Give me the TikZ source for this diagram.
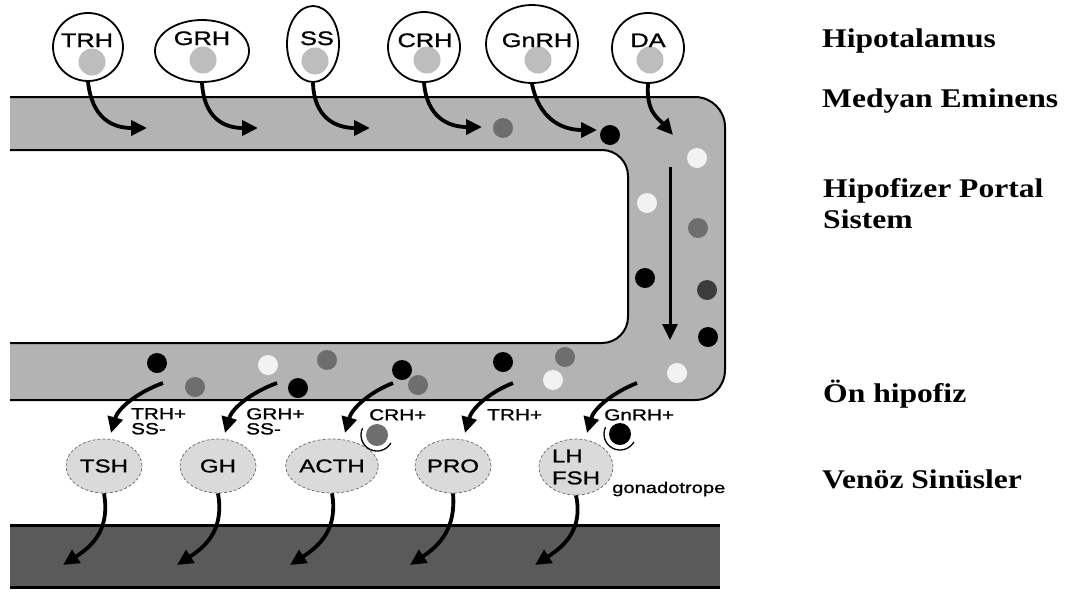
\documentclass[tikz,border=0pt]{standalone}
\usepackage{fontspec}
\usepackage{tikz}
\usetikzlibrary{arrows.meta, shapes.geometric}
\newfontfamily\sidefont[FakeStretch=1.17]{Liberation Serif}
\newfontfamily\labfont[FakeStretch=1.3, FakeBold=1.2]{Liberation Sans}
\definecolor{portalgrey}{HTML}{B3B3B3}
\definecolor{sinusgrey}{HTML}{5A5A5A}
\definecolor{cellgrey}{HTML}{DADADA}
\definecolor{granulegrey}{HTML}{BDBDBD}
\definecolor{midgrey}{HTML}{6E6E6E}
\definecolor{darkgrey}{HTML}{3C3C3C}
\definecolor{palegrey}{HTML}{F2F2F2}

\begin{document}
\begin{tikzpicture}[x=1pt, y=-1pt,
    neuron/.style={ellipse, draw=black, line width=1.8pt, fill=white, inner sep=0pt},
    nlabel/.style={anchor=base, inner sep=0pt, font=\labfont\fontsize{19.5}{22}\selectfont},
    granule/.style={circle, fill=granulegrey, minimum size=27pt, inner sep=0pt},
    cell/.style={ellipse, draw=black!60, densely dashed, line width=0.7pt, fill=cellgrey,
                 minimum width=76pt, minimum height=54pt, inner sep=0pt, align=left,
                 font=\labfont\fontsize{18.5}{22}\selectfont},
    effect/.style={anchor=north west, inner sep=0pt, align=left,
                   font=\labfont\fontsize{16}{15}\selectfont},
    side/.style={anchor=base west, inner sep=0pt, align=left,
                 font=\sidefont\bfseries\fontsize{27}{31.5}\selectfont},
    flow/.style={-{Triangle[length=16pt, width=15pt]}, line width=3.8pt},
    wall/.style={line width=2pt}
]
    \useasboundingbox (0,0) rectangle (1067,592);

    % portal vessel
    \fill[portalgrey, rounded corners=30pt] (10,97) -- (725,97) -- (725,400) -- (10,400);
    \fill[white, rounded corners=26pt] (10,150) -- (628,150) -- (628,343) -- (10,343);
    \draw[wall, rounded corners=30pt] (10,97) -- (725,97) -- (725,400) -- (10,400);
    \draw[wall, rounded corners=26pt] (10,150) -- (628,150) -- (628,343) -- (10,343);

    % venous sinus
    \fill[sinusgrey] (10,525) rectangle (720,587);
    \draw[line width=3pt] (10,525) -- (720,525);
    \draw[line width=3pt] (10,587) -- (720,587);

    % hypothalamic neurons
    \node[neuron, minimum width=70pt, minimum height=68pt] (trh) at (88,47) {};
    \node[neuron, minimum width=94pt, minimum height=62pt] (grh) at (202,51) {};
    \node[neuron, minimum width=52pt, minimum height=76pt] (ss) at (313,44) {};
    \node[neuron, minimum width=72pt, minimum height=70pt] (crh) at (424,47) {};
    \node[neuron, minimum width=92pt, minimum height=78pt] (gnrh) at (532,44) {};
    \node[neuron, minimum width=72pt, minimum height=70pt] (da) at (648,48) {};

    \node[granule] (trhg) at (92,62) {};
    \node[granule] (grhg) at (203,60) {};
    \node[granule] (ssg) at (315,61) {};
    \node[granule] (crhg) at (427,60) {};
    \node[granule] (gnrhg) at (538,60) {};
    \node[granule] (dag) at (650,60) {};

    \node[nlabel] (trhtxt) at (87,47) {TRH};
    \node[nlabel] (grhtxt) at (202,45) {GRH};
    \node[nlabel] (sstxt) at (317,45) {SS};
    \node[nlabel] (crhtxt) at (425,47) {CRH};
    \node[nlabel] (gnrhtxt) at (537,47) {GnRH};
    \node[nlabel] (datxt) at (648,47) {DA};

    % release into the median eminence
    \coordinate (trhin) at (147,128);
    \coordinate (grhin) at (258,128);
    \coordinate (ssin) at (370,128);
    \coordinate (crhin) at (482,127);
    \coordinate (gnrhin) at (597,130);
    \coordinate (dain) at (673,135);
    \draw[flow] (trh.south) .. controls (92,118) and (112,128) .. (trhin);
    \draw[flow] (grh.south) .. controls (204,118) and (224,128) .. (grhin);
    \draw[flow] (ss.south) .. controls (314,118) and (336,128) .. (ssin);
    \draw[flow] (crh.south) .. controls (427,117) and (448,127) .. (crhin);
    \draw[flow] (gnrh.south) .. controls (539,119) and (562,130) .. (gnrhin);
    \draw[flow] (da.south) .. controls (646,112) and (658,118) .. (dain);

    % portal flow
    \coordinate (portaltop) at (670,167);
    \coordinate (portalend) at (670,340);
    \draw[flow, line width=3pt] (portaltop) -- (portalend);

    % hormones in the vessel
    \foreach \x/\y/\c in {503/128/midgrey, 610/135/black, 697/158/palegrey,
        647/203/palegrey, 698/228/midgrey, 645/278/black, 707/290/darkgrey,
        708/337/black, 677/373/palegrey, 157/363/black, 195/387/midgrey,
        268/365/palegrey, 298/388/black, 327/360/midgrey, 402/370/black,
        418/385/midgrey, 503/362/black, 565/357/midgrey, 553/380/palegrey}
        \fill[\c] (\x,\y) circle[radius=10];

    % anterior pituitary cells
    \node[cell] (tsh) at (104,466) {TSH};
    \node[cell] (gh) at (218,466) {GH};
    \node[cell] (acth) at (332,466) {ACTH};
    \node[cell] (pro) at (453,466) {PRO};
    \node[cell, minimum width=74pt, minimum height=56pt] (lhfsh) at (576,467) {LH\\FSH};
    \node[anchor=base west, inner sep=0pt, font=\labfont\fontsize{15.5}{18}\selectfont]
        (gonado) at (612,493) {gonadotrope};

    % delivery to the cells
    \coordinate (tshsrc) at (163,383);
    \coordinate (ghsrc) at (277,383);
    \coordinate (acthsrc) at (393,383);
    \coordinate (prosrc) at (513,383);
    \coordinate (lhsrc) at (637,383);
    \coordinate (tshin) at (111,433);
    \coordinate (ghin) at (225,433);
    \coordinate (acthin) at (345,433);
    \coordinate (proin) at (465,433);
    \coordinate (lhin) at (587,433);
    \draw[flow] (tshsrc) .. controls (138,392) and (118,408) .. (tshin);
    \draw[flow] (ghsrc) .. controls (252,392) and (232,408) .. (ghin);
    \draw[flow] (acthsrc) .. controls (370,392) and (352,408) .. (acthin);
    \draw[flow] (prosrc) .. controls (490,392) and (472,408) .. (proin);
    \draw[flow] (lhsrc) .. controls (614,392) and (594,408) .. (lhin);

    \node[effect] (tsheff) at (131,408) {TRH+\\SS-};
    \node[effect] (gheff) at (246,408) {GRH+\\SS-};
    \node[effect] (httheff) at (369,409) {CRH+};
    \node[effect] (proeff) at (487,409) {TRH+};
    \node[effect] (lheff) at (604,409) {GnRH+};

    % bound releasing hormones
    \fill[midgrey] (377,435) circle[radius=11];
    \draw[line width=1.3pt] (377,435) ++(205:16) arc[start angle=205, end angle=30, radius=16];
    \fill[black] (620,434) circle[radius=11];
    \draw[line width=1.3pt] (620,434) ++(205:16) arc[start angle=205, end angle=30, radius=16];

    % release into the sinus
    \coordinate (tshout) at (63,565);
    \coordinate (ghout) at (177,565);
    \coordinate (acthout) at (290,565);
    \coordinate (proout) at (410,565);
    \coordinate (lhout) at (535,565);
    \draw[flow] (tsh.south) .. controls (110,528) and (94,545) .. (tshout);
    \draw[flow] (gh.south) .. controls (224,528) and (208,545) .. (ghout);
    \draw[flow] (acth.south) .. controls (338,528) and (321,545) .. (acthout);
    \draw[flow] (pro.south) .. controls (456,528) and (440,545) .. (proout);
    \draw[flow] (lhfsh.south) .. controls (583,528) and (566,545) .. (lhout);

    % level names
    \node[side] (hypo) at (822,47) {Hipotalamus};
    \node[side] (median) at (822,107) {Medyan Eminens};
    \node[side] (portal) at (823,197) {Hipofizer Portal};
    \node[side] (portal2) at (823,228) {Sistem};
    \node[side] (antpit) at (823,402) {Ön hipofiz};
    \node[side] (sinus) at (822,488) {Venöz Sinüsler};
\end{tikzpicture}
\end{document}
